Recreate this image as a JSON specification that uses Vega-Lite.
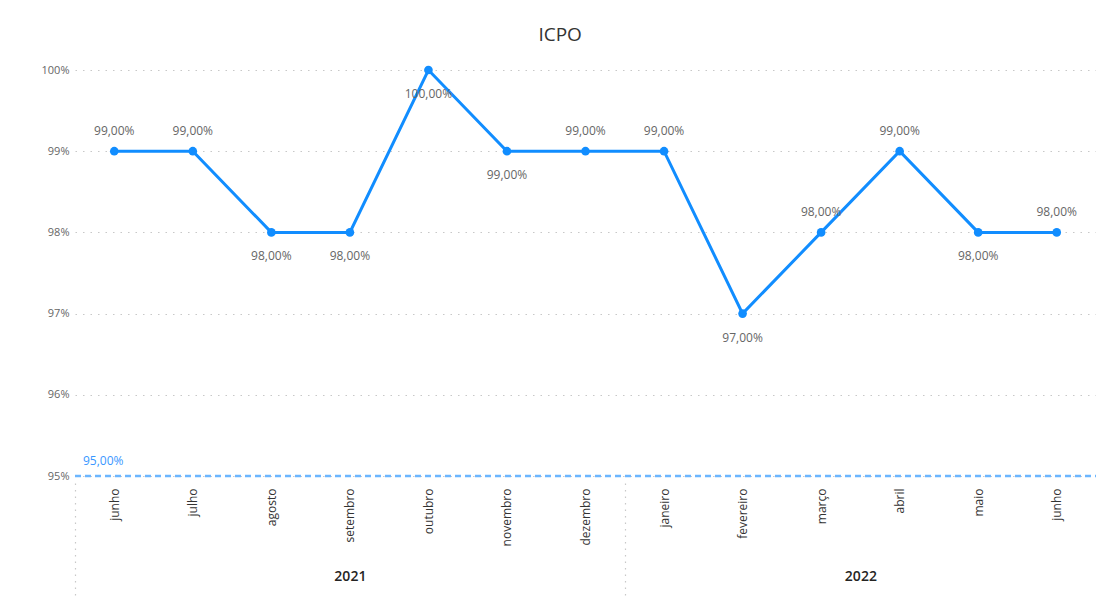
{
  "$schema": "https://vega.github.io/schema/vega-lite/v6.json",
  "autosize": {"type": "none"},
  "width": 1021,
  "height": 406,
  "padding": {"left": 75, "top": 70, "right": 0, "bottom": 132},
  "title": {"text": "ICPO", "fontSize": 19, "fontWeight": 500, "color": "#333333", "anchor": "middle", "frame": "bounds", "offset": 19, "dx": -9},
  "datasets": {
    "icpo": [
      {"periodo": "2021-06", "valor": 0.99},
      {"periodo": "2021-07", "valor": 0.99},
      {"periodo": "2021-08", "valor": 0.98},
      {"periodo": "2021-09", "valor": 0.98},
      {"periodo": "2021-10", "valor": 1.00},
      {"periodo": "2021-11", "valor": 0.99},
      {"periodo": "2021-12", "valor": 0.99},
      {"periodo": "2022-01", "valor": 0.99},
      {"periodo": "2022-02", "valor": 0.97},
      {"periodo": "2022-03", "valor": 0.98},
      {"periodo": "2022-04", "valor": 0.99},
      {"periodo": "2022-05", "valor": 0.98},
      {"periodo": "2022-06", "valor": 0.98}
    ],
    "meta": [{"meta": 0.95}]
  },
  "layer": [
    {
      "data": {"name": "icpo"},
      "encoding": {
        "x": {
          "field": "periodo", "type": "ordinal", "sort": null,
          "axis": {
            "orient": "bottom", "title": null, "ticks": false, "domain": false, "grid": false,
            "labelAngle": -90, "labelPadding": 12, "labelFontSize": 12, "labelColor": "#333333",
            "labelExpr": "['janeiro','fevereiro','março','abril','maio','junho','julho','agosto','setembro','outubro','novembro','dezembro'][toNumber(substring(datum.value,5,7))-1]"
          }
        },
        "y": {
          "field": "valor", "type": "quantitative",
          "scale": {"domain": [0.95, 1.0], "nice": false, "zero": false},
          "axis": {
            "title": null, "ticks": false, "domain": false, "grid": true,
            "gridDash": [1.5, 6], "gridColor": "#C8C8C8", "gridWidth": 1.2,
            "values": [0.95, 0.96, 0.97, 0.98, 0.99, 1.0], "format": ".0%",
            "labelPadding": 6, "labelFontSize": 11, "labelColor": "#666666"
          }
        }
      },
      "layer": [
        {"mark": {"type": "line", "color": "#118DFF", "strokeWidth": 3}},
        {"mark": {"type": "point", "filled": true, "opacity": 1, "color": "#118DFF", "size": 75}},
        {
          "transform": [{"filter": "indexof(['2021-08','2021-09','2021-10','2021-11','2022-02','2022-05'], datum.periodo) < 0"}],
          "mark": {"type": "text", "fontSize": 12, "color": "#666666", "baseline": "middle", "dy": -20},
          "encoding": {"text": {"field": "valor", "type": "quantitative", "format": ".2%"}}
        },
        {
          "transform": [{"filter": "indexof(['2021-08','2021-09','2021-10','2021-11','2022-02','2022-05'], datum.periodo) >= 0"}],
          "mark": {"type": "text", "fontSize": 12, "color": "#666666", "baseline": "middle", "dy": 24},
          "encoding": {"text": {"field": "valor", "type": "quantitative", "format": ".2%"}}
        }
      ]
    },
    {
      "data": {"name": "meta"},
      "encoding": {
        "x": {
          "datum": 0, "type": "quantitative",
          "scale": {"domain": [0, 13], "nice": false, "zero": false},
          "axis": {
            "orient": "bottom", "title": null, "domain": false, "grid": false,
            "values": [0, 3.5, 7, 10],
            "ticks": true, "tickSize": 114, "tickOffset": 0, "tickColor": "#C8C8C8", "tickDash": [1.5, 5], "tickWidth": 1.2,
            "tickOpacity": {"condition": {"test": "datum.value === 3.5 || datum.value === 10", "value": 0}, "value": 1},
            "offset": 7,
            "labelPadding": -21, "labelBaseline": "middle",
            "labelFontSize": 14, "labelFontWeight": 600, "labelColor": "#252423",
            "labelExpr": "datum.value === 3.5 ? '2021' : datum.value === 10 ? '2022' : ''"
          }
        },
        "y": {"field": "meta", "type": "quantitative"}
      },
      "layer": [
        {
          "mark": {"type": "rule", "color": "#6CB6FF", "strokeWidth": 2.5, "strokeDash": [6, 4]},
          "encoding": {"x2": {"datum": 13}}
        },
        {
          "mark": {"type": "text", "align": "left", "baseline": "middle", "dx": 8, "dy": -15, "fontSize": 12, "color": "#3A97FF"},
          "encoding": {
            "text": {"field": "meta", "type": "quantitative", "format": ".2%"}
          }
        }
      ]
    }
  ],
  "resolve": {"scale": {"x": "independent"}, "axis": {"x": "independent"}},
  "config": {
    "locale": {"number": {"decimal": ",", "thousands": ".", "grouping": [3], "currency": ["R$ ", ""]}},
    "font": "Open Sans",
    "view": {"stroke": null}
  }
}
